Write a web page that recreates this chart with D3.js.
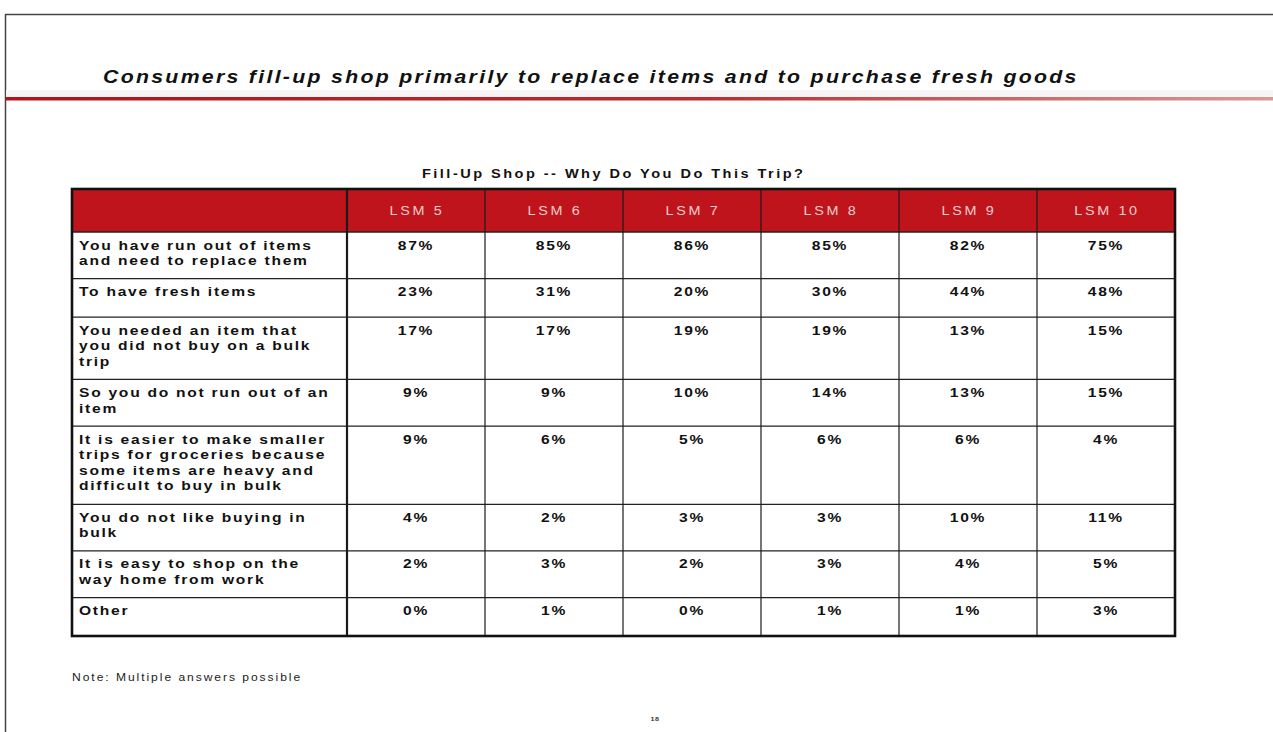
<!DOCTYPE html>
<html>
<head>
<meta charset="utf-8">
<script src="https://cdn.jsdelivr.net/npm/d3@7"></script>
<style>
  html, body { margin: 0; padding: 0; background: #fff; }
  svg { display: block; font-family: "Liberation Sans", Arial, Helvetica, sans-serif; }
</style>
</head>
<body>
<svg id="chart" width="1273" height="732"></svg>
<script>
// ---- content ----
const slideTitle = "Consumers fill-up shop primarily to replace items and to purchase fresh goods";
const tableTitle = "Fill-Up Shop -- Why Do You Do This Trip?";
const noteText = "Note:  Multiple answers possible";
const pageNumber = "18";

const segments = ["LSM 5", "LSM 6", "LSM 7", "LSM 8", "LSM 9", "LSM 10"];

const reasons = [
  ["You have run out of items", "and need to replace them"],
  ["To have fresh items"],
  ["You needed an item that", "you did not buy on a bulk", "trip"],
  ["So you do not run out of an", "item"],
  ["It is easier to make smaller", "trips for groceries because", "some items are heavy and", "difficult to buy in bulk"],
  ["You do not like buying in", "bulk"],
  ["It is easy to shop on the", "way home from work"],
  ["Other"]
];

// share of shoppers (%) per reason, one array per LSM group
const lsm5  = [87, 23, 17,  9, 9,  4, 2, 0];
const lsm6  = [85, 31, 17,  9, 6,  2, 3, 1];
const lsm7  = [86, 20, 19, 10, 5,  3, 2, 0];
const lsm8  = [85, 30, 19, 14, 6,  3, 3, 1];
const lsm9  = [82, 44, 13, 13, 6, 10, 4, 1];
const lsm10 = [75, 48, 15, 15, 4, 11, 5, 3];
const seriesValues = [lsm5, lsm6, lsm7, lsm8, lsm9, lsm10];

// ---- layout ----
const W = 1273, H = 732;
const SX = 1.2;                 // horizontal stretch of the slide lettering
const RED = "#c0141d";
const tableLeft = 72, labelRight = 347, tableRight = 1175;
const headerTop = 189, headerBottom = 232, tableBottom = 636;
const lineH = 15.6;

const svg = d3.select("#chart");

// stretched text helper
function stext(parent, str, x, y, opts) {
  return parent.append("text")
    .attr("transform", `translate(${x},${y}) scale(${opts.sx ?? SX},1)`)
    .attr("font-size", opts.size)
    .attr("font-weight", opts.weight || "bold")
    .attr("font-style", opts.style || "normal")
    .attr("letter-spacing", opts.ls ?? 0)
    .attr("fill", opts.fill || "#111")
    .attr("text-anchor", opts.anchor || "start")
    .text(str);
}

// ---- slide frame ----
svg.append("line").attr("x1", 5).attr("x2", W).attr("y1", 14.5).attr("y2", 14.5)
  .attr("stroke", "#444").attr("stroke-width", 1.5);
svg.append("line").attr("x1", 5.5).attr("x2", 5.5).attr("y1", 14).attr("y2", H)
  .attr("stroke", "#444").attr("stroke-width", 1.5);

// title rule
const defs = svg.append("defs");
const grad = defs.append("linearGradient").attr("id", "rule").attr("x1", "0").attr("x2", "1");
grad.append("stop").attr("offset", "0").attr("stop-color", "#b3121a");
grad.append("stop").attr("offset", "0.55").attr("stop-color", "#bf2a2e");
grad.append("stop").attr("offset", "1").attr("stop-color", "#d89a98");
svg.append("rect").attr("x", 6).attr("y", 90).attr("width", W - 6).attr("height", 7)
  .attr("fill", "#f7f5f5");
svg.append("rect").attr("x", 6).attr("y", 97).attr("width", W - 6).attr("height", 3.5)
  .attr("fill", "url(#rule)");

// title
stext(svg, slideTitle, 103, 83, { size: 18.5, style: "italic", ls: 2.0, sx: 1.15 });

// table title
stext(svg, tableTitle, 422, 178, { size: 13, ls: 2.2, sx: 1.12 });

// ---- scales ----
const x = d3.scaleBand().domain(segments).range([labelRight, tableRight]);

const rowLines = reasons.map(r => r.length);
const rawH = rowLines.map(n => Math.max(38, n * lineH + 15));
const k = (tableBottom - headerBottom) / d3.sum(rawH);
const rowTops = [];
let acc = headerBottom;
rawH.forEach(h => { rowTops.push(acc); acc += h * k; });
const rowBounds = rowTops.concat([tableBottom]);

// ---- header ----
svg.append("rect").attr("x", tableLeft).attr("y", headerTop)
  .attr("width", tableRight - tableLeft).attr("height", headerBottom - headerTop)
  .attr("fill", RED);

const head = svg.append("g");
segments.forEach(s => {
  stext(head, s, x(s) + x.bandwidth() / 2 + 1, 214.5,
    { size: 12, weight: "normal", ls: 2.2, anchor: "middle", fill: "#f4cdc9" });
});

// ---- grid ----
const grid = svg.append("g");
rowBounds.slice(1, -1).forEach(y => {
  grid.append("line").attr("x1", tableLeft).attr("x2", tableRight)
    .attr("y1", y).attr("y2", y).attr("stroke", "#222").attr("stroke-width", 1.2);
});
grid.append("line").attr("x1", tableLeft).attr("x2", tableRight)
  .attr("y1", headerBottom).attr("y2", headerBottom).attr("stroke", "#222").attr("stroke-width", 1.6);
segments.forEach((s, i) => {
  grid.append("line").attr("x1", x(s)).attr("x2", x(s))
    .attr("y1", headerTop).attr("y2", tableBottom)
    .attr("stroke", "#1a1a1a").attr("stroke-width", i === 0 ? 2.2 : 1.2);
});
svg.append("rect").attr("x", tableLeft).attr("y", headerTop)
  .attr("width", tableRight - tableLeft).attr("height", tableBottom - headerTop)
  .attr("fill", "none").attr("stroke", "#111").attr("stroke-width", 2.6);

// ---- row labels ----
const labels = svg.append("g");
reasons.forEach((lines, r) => {
  lines.forEach((ln, i) => {
    stext(labels, ln, 79, rowTops[r] + 17.5 + i * lineH, { size: 13, ls: 1.45 });
  });
});

// ---- values ----
const vals = svg.append("g");
seriesValues.forEach((series, c) => {
  series.forEach((v, r) => {
    stext(vals, d3.format("d")(v) + "%", x(segments[c]) + x.bandwidth() / 2, rowTops[r] + 17.5,
      { size: 13, ls: 1.45, anchor: "middle" });
  });
});

// ---- footnote & page number ----
stext(svg, noteText, 72, 681, { size: 10.5, weight: "normal", ls: 1.7, sx: 1.15, fill: "#222" });
stext(svg, pageNumber, 655, 721, { size: 6, ls: 0.5, anchor: "middle", fill: "#333" });
</script>
</body>
</html>
